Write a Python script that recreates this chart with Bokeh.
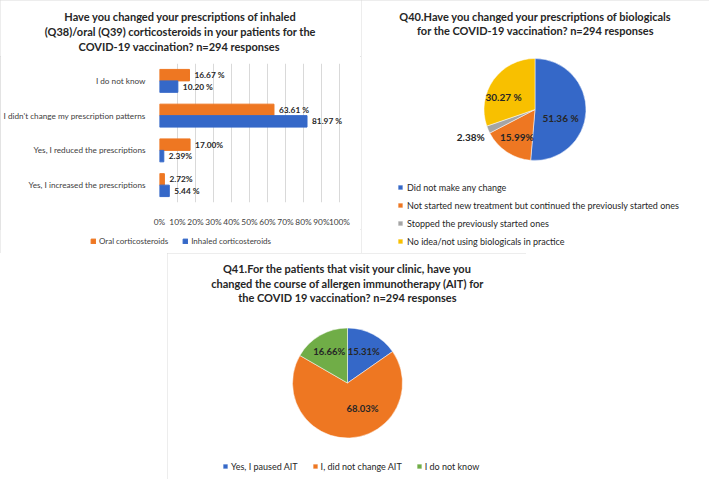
import math
from bokeh.plotting import figure
from bokeh.models import (ColumnDataSource, FactorRange, Range1d, FixedTicker,
                          PrintfTickFormatter, Legend, LegendItem, Spacer, Label)
from bokeh.layouts import column, row
from bokeh.transform import dodge
from bokeh.core.properties import value
from bokeh.embed import file_html
from bokeh.resources import INLINE

# ---------------- data ----------------
cs_categories = ["I do not know",
                 "I didn't change my prescription patterns",
                 "Yes, I reduced the prescriptions",
                 "Yes, I increased the prescriptions"]
oral_values = [16.67, 63.61, 17.00, 2.72]
inhaled_values = [10.20, 81.97, 2.39, 5.44]
oral_labels = ["16.67 %", "63.61 %", "17.00%", "2.72%"]
inhaled_labels = ["10.20 %", "81.97 %", "2.39%", "5.44 %"]
x_ticks = [0, 10, 20, 30, 40, 50, 60, 70, 80, 90, 100]

q40_categories = ["Did not make any change",
                  "Not started new treatment but continued the previously started ones",
                  "Stopped the previously started ones",
                  "No idea/not using biologicals in practice"]
q40_values = [51.36, 15.99, 2.38, 30.27]
q40_labels = ["51.36 %", "15.99%", "2.38%", "30.27 %"]

q41_categories = ["Yes, I paused AIT", "I, did not change AIT", "I do not know"]
q41_values = [15.31, 68.03, 16.66]
q41_labels = ["15.31%", "68.03%", "16.66%"]

# ---------------- style ----------------
FONT = "Lato"
BLUE = "#3568C8"
ORANGE = "#EE7722"
GRAY = "#A5A5A5"
YELLOW = "#F8C000"
GREEN = "#70AD47"
TXT = "#262626"
BORDER = {"outline": "1px solid #DADADA", "outline-offset": "-1px"}


def blank_fig(w, h, styles=None, y_range=None):
    f = figure(width=w, height=h, x_range=Range1d(0, w),
               y_range=y_range if y_range is not None else Range1d(0, h),
               output_backend="svg", toolbar_location=None, x_axis_location=None,
               y_axis_location=None, min_border=0, styles=styles or {})
    f.frame_align = False
    f.outline_line_color = None
    f.grid.grid_line_color = None
    return f


def add_title(f, lines, x, y0, step):
    for i, t in enumerate(lines):
        f.add_layout(Label(x=x, y=y0 - step * i, x_units="screen", y_units="screen", text=t,
                           text_align="center", text_baseline="middle", text_font=FONT,
                           text_font_style="bold", text_font_size="11px", text_color=TXT))


def pie_source(vals, cats, labels, cx, cy, r, factors, offsets):
    starts, ends, lx, ly, xo, yo = [], [], [], [], [], []
    cum = 0.0
    for v, f, (ox, oy) in zip(vals, factors, offsets):
        a0 = math.pi / 2 - 2 * math.pi * cum / 100.0
        a1 = math.pi / 2 - 2 * math.pi * (cum + v) / 100.0
        am = (a0 + a1) / 2
        starts.append(a0)
        ends.append(a1)
        lx.append(cx + f * r * math.cos(am))
        ly.append(cy + f * r * math.sin(am))
        xo.append(ox)
        yo.append(oy)
        cum += v
    return ColumnDataSource(dict(cat=cats, val=vals, label=labels, start=starts,
                                 end=ends, lx=lx, ly=ly, xo=xo, yo=yo))


# ---------------- panel 1: bar chart (title / chart / legend) ----------------
W1 = 361
p1t = blank_fig(W1, 56)
add_title(p1t, ["Have you changed your prescriptions of inhaled",
                "(Q38)/oral (Q39) corticosteroids in your patients for the",
                "COVID-19 vaccination?  n=294 responses"], 180, 40, 15)

src1 = ColumnDataSource(dict(cat=cs_categories, oral=oral_values, inhaled=inhaled_values,
                             oral_label=oral_labels, inhaled_label=inhaled_labels))
p1 = figure(width=W1, height=173, y_range=FactorRange(*reversed(cs_categories)),
            x_range=Range1d(0, 102.8), output_backend="svg", toolbar_location=None,
            min_border_left=158, min_border_right=17, min_border_top=7,
            min_border_bottom=19)
p1.frame_align = False
p1.outline_line_color = None
p1.hbar(y=dodge("cat", 0.165, range=p1.y_range), right="oral", left=0,
        height=0.33, color=ORANGE, source=src1)
p1.hbar(y=dodge("cat", -0.165, range=p1.y_range), right="inhaled", left=0,
        height=0.33, color=BLUE, source=src1)
p1.text(x="oral", y=dodge("cat", 0.165, range=p1.y_range), text="oral_label",
        x_offset=5, text_baseline="middle", text_font=value(FONT), text_font_style="bold",
        text_font_size="8.3px", text_color=TXT, source=src1)
p1.text(x="inhaled", y=dodge("cat", -0.165, range=p1.y_range), text="inhaled_label",
        x_offset=5, text_baseline="middle", text_font=value(FONT), text_font_style="bold",
        text_font_size="8.3px", text_color=TXT, source=src1)
p1.xaxis.ticker = FixedTicker(ticks=x_ticks)
p1.xaxis.formatter = PrintfTickFormatter(format="%d%%")
for ax in (p1.xaxis, p1.yaxis):
    ax.axis_line_color = None
    ax.major_tick_line_color = None
    ax.minor_tick_line_color = None
    ax.major_label_text_font = FONT
    ax.major_label_text_color = "#404040"
p1.xaxis.major_label_text_font_size = "8.3px"
p1.xaxis.major_label_standoff = 8
p1.yaxis.major_label_text_font_size = "8.2px"
p1.yaxis.major_label_standoff = 8
p1.xgrid.grid_line_color = "#D9D9D9"
p1.ygrid.grid_line_color = None

# legend strip: hidden proxies of the two bar series provide the swatches
p1l = blank_fig(W1, 24, y_range=FactorRange(*cs_categories))
lg_oral = p1l.hbar(y="cat", right="oral", left=0, height=0.33, color=ORANGE,
                   source=src1, visible=False)
lg_inh = p1l.hbar(y="cat", right="inhaled", left=0, height=0.33, color=BLUE,
                  source=src1, visible=False)
leg1 = Legend(items=[LegendItem(label="Oral corticosteroids", renderers=[lg_oral]),
                     LegendItem(label="Inhaled corticosteroids", renderers=[lg_inh])],
              location=(90, 6), orientation="horizontal", glyph_width=6, glyph_height=6,
              label_text_font=FONT, label_text_font_size="8px", label_text_color="#404040",
              label_height=12, label_standoff=3, spacing=14, padding=0, margin=0,
              border_line_color=None, background_fill_alpha=0)
p1l.add_layout(leg1, "center")

panel1 = column(p1t, p1, p1l, spacing=0, styles=BORDER)

# ---------------- panel 2: Q40 pie ----------------
W2, H2 = 348, 253
p2 = blank_fig(W2, H2, BORDER)
src2 = pie_source(q40_values, q40_categories, q40_labels, 173.5, 144, 51,
                  [0.5, 0.64, 1.37, 0.66], [(0, 7), (0, 0), (0, 0), (-4, 7)])
src2.data["color"] = [BLUE, ORANGE, GRAY, YELLOW]
w2 = p2.wedge(x=173.5, y=144, radius=51, start_angle="start", end_angle="end",
              direction="clock", fill_color="color", line_color="white", line_width=0.5,
              source=src2)
p2.text(x="lx", y="ly", text="label", x_offset="xo", y_offset="yo", text_align="center",
        text_baseline="middle", text_font=value(FONT), text_font_style="bold",
        text_font_size="10px", text_color=TXT, source=src2)
add_title(p2, ["Q40.Have you changed your prescriptions of biologicals",
               "for the COVID-19 vaccination? n=294 responses"], 174, 237, 14)
leg2 = Legend(items=[LegendItem(label=c, renderers=[w2], index=i)
                     for i, c in enumerate(q40_categories)],
              location=(36, 6), orientation="vertical", glyph_width=6, glyph_height=6,
              label_text_font=FONT, label_text_font_size="9px", label_text_color="#262626",
              label_height=12, label_standoff=4, spacing=6, padding=0, margin=0,
              border_line_color=None, background_fill_alpha=0)
p2.add_layout(leg2, "center")

# ---------------- panel 3: Q41 pie ----------------
W3, H3 = 359, 226
p3 = blank_fig(W3, H3, BORDER)
src3 = pie_source(q41_values, q41_categories, q41_labels, 180, 96.5, 55,
                  [0.64, 0.46, 0.66], [(0, 0), (14, 0), (0, 0)])
src3.data["color"] = [BLUE, ORANGE, GREEN]
w3 = p3.wedge(x=180, y=96.5, radius=55, start_angle="start", end_angle="end",
              direction="clock", fill_color="color", line_color="white", line_width=0.5,
              source=src3)
p3.text(x="lx", y="ly", text="label", x_offset="xo", y_offset="yo", text_align="center",
        text_baseline="middle", text_font=value(FONT), text_font_style="bold",
        text_font_size="9.5px", text_color=TXT, source=src3)
add_title(p3, ["Q41.For the patients that visit your clinic, have you",
               "changed the course of allergen immunotherapy (AIT) for",
               "the COVID 19 vaccination? n=294 responses"], 180, 211, 14.5)
leg3 = Legend(items=[LegendItem(label=c, renderers=[w3], index=i)
                     for i, c in enumerate(q41_categories)],
              location=(55, 7), orientation="horizontal", glyph_width=6, glyph_height=6,
              label_text_font=FONT, label_text_font_size="9px", label_text_color="#262626",
              label_height=12, label_standoff=3, spacing=14, padding=0, margin=0,
              border_line_color=None, background_fill_alpha=0)
p3.add_layout(leg3, "center")

layout = column(row(panel1, p2, spacing=0),
                row(Spacer(width=167, height=H3), p3, spacing=0), spacing=0)

html = file_html(layout, INLINE, title="Survey charts")
open("out.html", "w").write(html)
